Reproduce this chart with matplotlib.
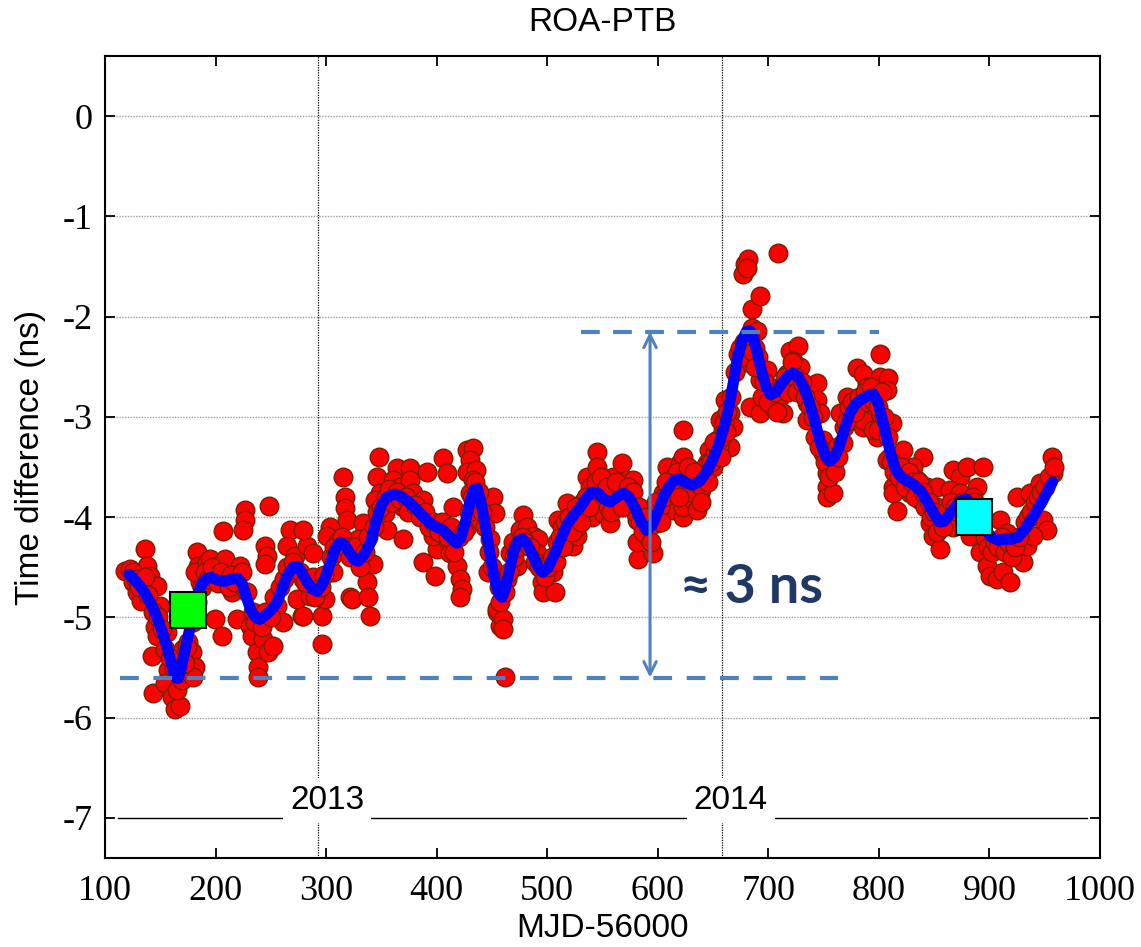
import matplotlib
matplotlib.use("Agg")
import matplotlib.pyplot as plt
import numpy as np

plt.rcParams['axes.unicode_minus'] = False

# ---------------- data ----------------
title = "ROA-PTB"
x_label = "MJD-56000"
y_label = "Time difference (ns)"
x_ticks = [100, 200, 300, 400, 500, 600, 700, 800, 900, 1000]
y_ticks = [0, -1, -2, -3, -4, -5, -6, -7]
year_mjd = [293, 658]
year_labels = ["2013", "2014"]

# scattered daily time differences (MJD-56000, ns)
pts_a = [
 (118,-4.54),(122.6,-4.52),(125,-4.65),(129,-4.75),(133,-4.84),(136,-4.32),(138,-4.49),(141,-4.59),
 (147,-4.69),(150,-4.89),(145,-5.10),(147,-5.19),(142.5,-5.39),(143,-5.75),(154,-5.32),(156,-5.15),
 (157,-5.52),(154,-5.65),(160.6,-5.79),(163,-5.91),(168,-5.88),(165,-5.72),(170,-5.62),(170.5,-5.32),
 (175,-5.25),(178.7,-5.35),(181.4,-5.49),(179.6,-5.59),(177,-4.89),(183,-4.35),(184,-4.49),(186,-4.65),
 (181,-4.55),(192,-4.45),(195,-4.42),(198,-4.62),(199.5,-5.02),(206,-5.19),(201,-4.49),(207,-4.14),
 (208.5,-4.42),(210,-4.62),(215,-4.75),(222,-4.49),(226.6,-3.93),(226.6,-4.03),(225,-4.13),(219,-5.02),
 (231,-5.09),(233,-5.19),(237.5,-5.35),(238.4,-5.49),(238.4,-5.59),(243,-5.22),(247,-5.35),(252,-5.29),
 (244.7,-4.29),(246.5,-4.39),(244.7,-4.47),(248,-3.89),(255.6,-4.89),(261,-5.05),(267,-4.13),(264.6,-4.29),
 (272,-4.39),(278,-4.99),(273.7,-4.82),(283,-4.29),(279,-4.62),
 (279,-4.13),(288,-4.36),(279,-4.99),(285.4,-4.79),(296,-4.99),(296,-5.27),(299,-4.82),(303.5,-4.10),
 (301,-4.19),(310,-4.25),(315,-3.60),(317,-3.80),(317,-3.91),(319,-4.03),(306,-4.55),(321.6,-4.80),
 (323,-4.82),(324,-4.36),(333.4,-4.06),(329,-4.22),(337,-4.65),(338,-4.80),(339.7,-4.99),(342,-4.47),
 (348,-3.40),(346,-3.60),(348.7,-3.76),(344,-3.83),(353,-3.96),(355,-4.13),(364,-3.51),(360.5,-3.63),
 (367,-3.70),(369.5,-3.90),(369.5,-4.22),(376,-3.51),(376,-3.63),(378.6,-3.76),(382,-3.96),(387.6,-3.83),
 (391,-3.55),(391,-4.03),(387.6,-4.45),(398.5,-4.59),(400,-4.32),(396.7,-4.19),(405.7,-3.41),(409,-3.56),
 (409,-4.22),(414.8,-3.90),(412,-4.36),(418,-4.49),(421,-4.62),(423,-4.72),(421,-4.80),(427,-4.10),
 (427,-3.33),(433,-3.31),(430,-3.43),(427,-3.55),(436,-3.53),(433,-3.63),(430,-3.76),(442,-3.90),
 (439,-4.03),(448,-4.22),(446,-4.55),(454.5,-4.95),(457,-5.09),
]
pts_b = [
 (451,-3.80),(452.7,-3.96),(454.5,-4.92),(460,-5.02),(460,-5.12),(457,-4.85),(462,-5.59),(463.6,-4.62),
 (466,-4.36),(469,-4.25),(472.6,-4.49),(478,-3.98),(475,-4.13),(481.7,-4.10),(487,-4.19),(491.6,-4.22),
 (490.7,-4.36),(495,-4.65),(496,-4.75),(507,-4.75),(505,-4.55),(510,-4.03),(513,-4.10),(518,-3.86),
 (523,-4.29),(527,-4.19),(527,-4.10),(536,-3.60),(538.7,-3.70),(540.5,-4.00),(545,-3.35),(545,-3.50),
 (550,-3.70),(550,-3.96),(557,-4.06),(559.5,-3.60),(567.6,-3.46),(572,-3.63),(575,-3.80),(577.6,-3.63),
 (581,-4.03),(582,-4.42),(581,-4.25),(590,-4.19),(595.6,-4.36),(599,-4.06),(604.7,-3.76),(608,-3.50),
 (611,-3.63),(612.8,-3.93),(623,-3.13),(620,-3.46),(626.4,-3.80),(623,-4.00),
 (623,-3.40),(626,-3.63),(623,-3.90),(632,-3.83),(638,-3.76),(635.5,-3.93),(641,-3.56),(646,-3.33),
 (644.5,-3.46),(650,-3.50),(653.5,-3.23),(659,-3.13),(656,-3.03),(661,-2.83),(665,-2.96),(668,-3.10),
 (665,-3.30),(672.5,-2.37),(674,-2.31),(676,-2.46),(677,-1.57),(679,-1.47),(681.6,-1.42),(680.7,-1.51),
 (685,-1.92),(692.4,-1.79),(685,-2.11),(690,-2.14),(688,-2.31),(690.6,-2.40),(709,-1.37),(683,-2.90),
 (692.4,-2.63),(698.8,-2.53),(692.4,-2.96),(701.6,-2.70),(704,-2.90),(710.5,-2.80),(713,-2.96),(719.6,-2.34),
 (727,-2.29),(722,-2.44),(728.6,-2.50),(717,-2.57),(722,-2.70),(735,-2.86),(735,-3.03),(744,-2.66),
 (744,-2.83),(746.7,-2.96),(749.4,-3.23),(749.4,-3.36),(753,-3.56),(753,-3.70),(753,-3.80),(758.5,-3.76),
 (758.5,-3.50),(762,-3.30),(767.5,-3.26),(764.8,-2.96),(774,-3.03),(771,-2.80),(780,-2.51),(783,-2.90),
 (789,-2.66),(792,-2.80),(786,-3.10),(798,-3.20),(801,-3.00),(801,-2.37),
 (785.6,-2.57),(789,-2.70),(801,-2.60),(808,-2.61),(807,-2.73),(786,-3.03),(795,-3.13),(799,-3.13),
 (812,-3.06),(810,-3.40),(807,-3.43),(822,-3.33),(840,-3.40),(813,-3.70),(813,-3.76),(816,-3.94),
 (831,-3.50),(834.5,-3.63),(843.5,-3.70),(828,-3.76),(837,-3.83),(852.5,-3.70),(846,-4.06),(849,-4.19),
 (855,-4.32),(852.5,-3.90),(867,-3.53),(873,-3.60),(880,-3.50),(894,-3.50),(864,-3.73),(873,-3.76),
 (888.7,-3.70),(885,-3.80),(867,-4.10),(882,-4.19),(891.5,-4.35),(898,-4.49),(900.5,-4.59),(907,-4.62),
 (912,-4.55),(918.5,-4.65),(909.5,-4.03),(916,-4.16),(925,-4.35),(930,-4.45),(925,-3.80),(936.6,-3.76),
 (945.7,-3.66),(943,-3.83),(948.4,-4.03),(952,-4.13),(956.5,-3.40),(957.5,-3.56),(934,-4.29),(939,-4.19),
]
pts_c = [
 (125,-4.55),(128,-4.62),(131,-4.70),(136,-4.60),(139,-4.78),(143,-4.95),(148,-5.00),(152,-5.12),
 (159,-5.40),(162,-5.50),(166,-5.55),(172,-5.45),(174,-5.30),(180,-5.05),(183,-4.85),(188,-4.70),
 (190,-4.55),(193,-4.62),(197,-4.50),(202,-4.66),(205,-4.55),(212,-4.70),(214,-4.58),(218,-4.65),
 (224,-4.55),(228,-4.75),(234,-4.95),(236,-5.05),(242,-5.10),(245,-4.95),(250,-5.00),(253,-4.80),
 (258,-4.70),(262,-4.62),(265,-4.50),(270,-4.45),(276,-4.55),(281,-4.65),(288,-4.60),(290,-4.80),
 (295,-4.70),(298,-4.58),(304,-4.40),(307,-4.30),(310,-4.35),(314,-4.20),(318,-4.30),(322,-4.40),
 (326,-4.30),(331,-4.50),(335,-4.35),(338,-4.20),(343,-4.10),(346,-3.95),(350,-3.90),(354,-3.80),
 (357,-3.72),(360,-3.85),(364,-3.75),(367,-3.82),(372,-3.80),(374,-3.95),(380,-3.88),(385,-4.00),
 (389,-3.95),(393,-4.10),(397,-4.05),(402,-4.15),(405,-4.05),(410,-4.20),(413,-4.10),(416,-4.35),
 (420,-4.20),(425,-4.15),(429,-3.95),(432,-3.80),(435,-3.65),(438,-3.75),(441,-3.95),(444,-4.10),
 (447,-4.35),(450,-4.50),(456,-4.70),(462,-4.75),(465,-4.55),(470,-4.40),(474,-4.30),(477,-4.20),
 (480,-4.25),(484,-4.30),(489,-4.45),(493,-4.50),(498,-4.60),(501,-4.50),(504,-4.40),(509,-4.25),
 (512,-4.20),(516,-4.05),(520,-4.00),(524,-4.05),(529,-3.95),(532,-3.85),(535,-3.80),(543,-3.80),
 (547,-3.75),(552,-3.85),(555,-3.90),(561,-3.80),(564,-3.75),(566,-3.70),(571,-3.80),(574,-3.85),
 (579,-3.95),(584,-4.05),(587,-4.15),(592,-4.10),(597,-4.00),(602,-3.90),(606,-3.80),(610,-3.70),
 (615,-3.65),(617,-3.55),(621,-3.70),(625,-3.60),(628,-3.70),(630,-3.75),(634,-3.65),(637,-3.60),
 (640,-3.70),(643,-3.50),(648,-3.45),(652,-3.35),(655,-3.30),(658,-3.20),(660,-3.05),(663,-2.95),
 (666,-2.80),(670,-2.55),(675,-2.40),(678,-2.25),(683,-2.20),(686,-2.35),(688,-2.50),(694,-2.80),
 (696,-2.65),(700,-2.85),(706,-2.75),(708,-2.95),(712,-2.70),(715,-2.60),(718,-2.75),(721,-2.45),
 (724,-2.60),(726,-2.75),(730,-2.65),(733,-2.80),(738,-2.90),(740,-3.00),(742,-3.20),(746,-3.30),
 (751,-3.45),(755,-3.60),(757,-3.40),(760,-3.55),(763,-3.40),(768,-3.10),(770,-3.05),(773,-2.90),
 (776,-2.85),(778,-2.95),(782,-2.80),(787,-2.75),(790,-2.85),(793,-2.70),(796,-2.85),(799,-2.90),
 (803,-2.75),(805,-3.00),(808,-3.20),(811,-3.45),(814,-3.55),(818,-3.60),(820,-3.50),(824,-3.70),
 (827,-3.55),(830,-3.65),(833,-3.80),(836,-3.65),(840,-3.75),(842,-3.90),(845,-3.85),(847,-4.00),
 (850,-3.95),(853,-4.15),(858,-4.10),(861,-3.95),(865,-3.85),(869,-3.90),(872,-3.95),(876,-3.85),
 (878,-4.00),(883,-3.95),(886,-3.85),(889,-4.05),(893,-4.10),(896,-4.20),(899,-4.30),(902,-4.35),
 (905,-4.25),(908,-4.30),(911,-4.20),(914,-4.35),(917,-4.25),(920,-4.40),(923,-4.30),(927,-4.20),
 (932,-4.05),(935,-4.00),(938,-3.95),(941,-3.85),(944,-3.80),(947,-3.75),(950,-3.70),(954,-3.60),
 (958,-3.50),
 (508,-4.45),(514,-4.30),(522,-4.15),(526,-3.90),(531,-4.05),(538,-3.90),(544,-3.65),(549,-3.60),
 (554,-3.70),(558,-3.95),(562,-3.65),(568,-3.90),(573,-3.70),(578,-3.75),(583,-3.90),(589,-4.00),
 (594,-4.25),(598,-3.85),(603,-4.05),(607,-3.65),(613,-3.75),(619,-3.80),(627,-3.50),(633,-3.55),
 (639,-3.85),(645,-3.65),(651,-3.25),(657,-3.40),(662,-3.15),
]
scatter_mjd = [p[0] for p in pts_a + pts_b + pts_c]
scatter_ns = [p[1] for p in pts_a + pts_b + pts_c]

# smoothed curve (MJD-56000, ns)
curve_pts = [
 (122,-4.57),(128,-4.64),(134,-4.72),(140,-4.83),(146,-4.97),(152,-5.15),(157,-5.33),(161,-5.50),
 (164,-5.60),(166,-5.61),(168,-5.55),(171,-5.40),(175,-5.20),(179,-4.98),(183,-4.80),(187,-4.68),
 (191,-4.62),(196,-4.60),(202,-4.63),(208,-4.64),(214,-4.62),(220,-4.61),(224,-4.66),(228,-4.80),
 (232,-4.93),(236,-5.00),(240,-5.02),(245,-4.98),(250,-4.93),(255,-4.86),(260,-4.72),(265,-4.58),
 (270,-4.50),(274,-4.49),(278,-4.55),(283,-4.65),(288,-4.72),(292,-4.74),(296,-4.68),(300,-4.58),
 (305,-4.42),(310,-4.28),(313,-4.25),(317,-4.28),(321,-4.35),(325,-4.42),(329,-4.44),(334,-4.38),
 (340,-4.26),(345,-4.05),(350,-3.88),(355,-3.80),(362,-3.77),(369,-3.80),(376,-3.86),(385,-3.96),
 (394,-4.06),(400,-4.10),(406,-4.13),(412,-4.20),(418,-4.26),(422,-4.20),(426,-4.05),(430,-3.85),
 (434,-3.72),(437,-3.72),(440,-3.85),(444,-4.08),(448,-4.35),(452,-4.60),(456,-4.76),(459,-4.80),
 (462,-4.72),(466,-4.52),(470,-4.33),(474,-4.23),(478,-4.22),(482,-4.27),(487,-4.38),(492,-4.50),
 (496,-4.55),(501,-4.50),(507,-4.36),(513,-4.20),(518,-4.07),(524,-3.98),(530,-3.90),(536,-3.80),
 (541,-3.75),(546,-3.76),(551,-3.82),(557,-3.85),(563,-3.80),(569,-3.76),(574,-3.80),(580,-3.92),
 (585,-4.05),(590,-4.13),(595,-4.08),(600,-3.95),(605,-3.80),(610,-3.70),(615,-3.63),(620,-3.62),
 (626,-3.66),(632,-3.68),(638,-3.64),(644,-3.55),(650,-3.42),(655,-3.28),(660,-3.10),(664,-2.92),
 (668,-2.68),(672,-2.42),(676,-2.25),(680,-2.15),(683,-2.14),(686,-2.20),(690,-2.36),(694,-2.55),
 (698,-2.70),(702,-2.78),(707,-2.75),(712,-2.67),(717,-2.60),(722,-2.56),(727,-2.60),(732,-2.70),
 (737,-2.85),(742,-3.04),(747,-3.25),(752,-3.40),(756,-3.44),(760,-3.40),(764,-3.30),(769,-3.12),
 (774,-2.96),(779,-2.87),(785,-2.82),(790,-2.79),(795,-2.77),(799,-2.85),(803,-3.02),(807,-3.20),
 (811,-3.38),(815,-3.52),(820,-3.60),(826,-3.64),(832,-3.68),(838,-3.74),(844,-3.85),(850,-3.97),
 (855,-4.05),(859,-4.04),(864,-3.97),(869,-3.90),(874,-3.84),(879,-3.82),(884,-3.87),(890,-3.98),
 (896,-4.12),(902,-4.20),(908,-4.23),(914,-4.22),(920,-4.22),(926,-4.20),(932,-4.12),(938,-4.02),
 (943,-3.93),(948,-3.84),(953,-3.73),(957,-3.65),
]
curve_mjd = [p[0] for p in curve_pts]
curve_ns = [p[1] for p in curve_pts]

# square markers
green_pt = (175, -4.93)
cyan_pt = (886, -4.0)

# annotation levels
low_level = -5.6
high_level = -2.15
low_span = (114, 763)
high_span = (531, 800)
arrow_mjd = 593
annot_text = "≈ 3 ns"
annot_pos = (685, -4.70)

# ---------------- figure ----------------
fig = plt.figure(figsize=(11.41, 9.47), dpi=100)
ax = fig.add_axes([105/1141, 89/947, 995/1141, 802/947])
ax.set_xlim(100, 1000)
ax.set_ylim(-7.4, 0.6)

serif = ['Liberation Serif', 'DejaVu Serif']
sans = ['Liberation Sans', 'DejaVu Sans']

# grid lines (horizontal)
for yv in y_ticks[:-1]:
    ax.axhline(yv, color='#a0a0a0', lw=1.0, ls=(0, (1, 1)), zorder=0)
ax.axhline(y_ticks[-1], xmin=0.013, xmax=0.987, color='black', lw=1.0, zorder=0.5)
for xm in year_mjd:
    ax.axvline(xm, color='black', lw=0.9, ls=(0, (1, 1)), zorder=0.5)

# data
ax.scatter(scatter_mjd, scatter_ns, s=180, facecolor='#ff0000', edgecolor='#7a1e00',
           linewidths=1.0, zorder=2)
ax.plot(curve_mjd, curve_ns, color='#0000ff', lw=8, solid_capstyle='round',
        solid_joinstyle='round', zorder=3)
ax.plot([green_pt[0]], [green_pt[1]], marker='s', ms=26, mfc='#00ff00', mec='black', mew=1.5, zorder=4)
ax.plot([cyan_pt[0]], [cyan_pt[1]], marker='s', ms=26, mfc='#00ffff', mec='black', mew=1.5, zorder=4)

# dashed range lines and arrow
dash_col = '#4f81bd'
ax.plot(low_span, [low_level, low_level], color=dash_col, lw=3, ls=(0, (4.5, 3.5)), zorder=5)
ax.plot(high_span, [high_level, high_level], color=dash_col, lw=3, ls=(0, (4.5, 3.2)), zorder=5)
ax.annotate('', xy=(arrow_mjd, high_level), xytext=(arrow_mjd, low_level),
            arrowprops=dict(arrowstyle='<->,head_length=0.9,head_width=0.45', color=dash_col, lw=2.2,
                            shrinkA=0, shrinkB=0), zorder=5)
ax.text(annot_pos[0], annot_pos[1], annot_text, color='#1f3864', fontsize=39, fontweight='bold',
        family=['Lato', 'DejaVu Sans'], ha='center', va='center', zorder=6)

# year labels
for xm, lab in zip(year_mjd, year_labels):
    ax.text(xm + 8, -6.83, lab, fontsize=24, family=sans, ha='center', va='center', zorder=1,
            bbox=dict(facecolor='white', edgecolor='none', pad=5))

# ticks
ax.set_xticks(x_ticks)
ax.set_xticklabels([str(v) for v in x_ticks], fontsize=26, family=serif)
ax.set_yticks(y_ticks)
ax.set_yticklabels([str(v) for v in y_ticks], fontsize=26, family=serif)
ax.tick_params(direction='in', length=7, width=1.3, top=True, right=True, pad=9)
ax.tick_params(axis='x', pad=12)
for sp in ax.spines.values():
    sp.set_linewidth(1.5)

ax.set_title(title, fontsize=24, family=sans, pad=18)
ax.set_xlabel(x_label, fontsize=24, family=sans, labelpad=4)
ax.set_ylabel(y_label, fontsize=24, family=sans, labelpad=12)

fig.savefig('out.png', dpi=100)
